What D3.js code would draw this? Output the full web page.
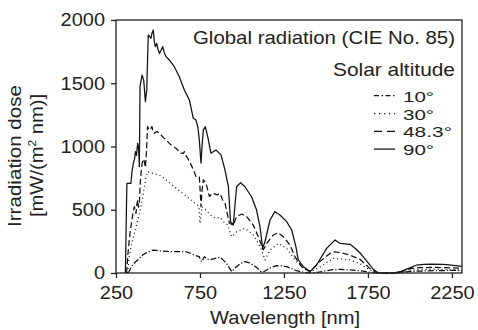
<!DOCTYPE html>
<html><head><meta charset="utf-8">
<script src="https://cdn.jsdelivr.net/npm/d3@7"></script>
<style>body{margin:0;background:#fff}svg{display:block}text{font-family:"Liberation Sans",Arial,Helvetica,sans-serif;fill:#222}</style>
</head><body><svg id="c" width="478" height="330"></svg>
<script>
const xTicks = [250, 750, 1250, 1750, 2250];
const yTicks = [0, 500, 1000, 1500, 2000];
const seriesNames = ["10°", "30°", "48.3°", "90°"];

const wl90 = [306,312,315,339,345,353,360,366,372,379,385,389,393,405,415,425,433,442,450,458,465,472,478,484,492,500,508,518,528,538,548,567,597,627,657,687,710,726,738,746,756,762,770,782,796,815,845,875,899,919,932,948,968,992,1018,1057,1087,1107,1123,1137,1167,1196,1226,1266,1296,1321,1335,1365,1405,1444,1504,1554,1583,1643,1670,1702,1730,1762,1785,1805,1830,1900,1940,1970,2000,2040,2080,2120,2200,2260,2310];
const v90 = [0,500,709,709,800,866,900,960,930,1025,980,840,1473,1565,1525,1355,1447,1881,1870,1855,1900,1921,1830,1789,1815,1770,1736,1760,1789,1740,1710,1684,1631,1552,1447,1368,1223,1210,1150,1052,868,1000,1131,1157,1078,947,973,934,814,682,406,379,682,714,682,603,498,366,195,247,419,485,458,406,340,208,103,50,11,63,195,261,235,227,200,160,115,63,25,5,0,0,10,25,40,63,68,71,68,60,52];

const wl48 = [313,321,329,337,345,352,359,364,369,374,379,384,389,394,399,406,413,419,425,431,438,448,456,464,471,478,488,498,508,518,533,548,577,607,637,650,657,662,677,692,706,716,726,746,751,756,762,770,786,806,825,855,869,885,899,925,948,968,998,1028,1067,1097,1127,1147,1186,1216,1246,1286,1315,1355,1405,1464,1524,1554,1590,1643,1702,1735,1762,1790,1821,1900,1940,1970,2000,2060,2140,2220,2310];
const v48 = [0,150,261,350,419,480,524,500,471,540,577,520,545,700,790,870,900,880,834,950,1157,1131,1140,1157,1120,1104,1115,1117,1100,1091,1070,1052,1013,986,947,945,960,935,908,870,829,800,763,763,650,524,650,737,710,605,631,618,630,577,551,393,379,445,466,445,379,287,182,234,300,319,287,221,129,50,11,90,155,168,160,142,108,70,35,12,0,0,5,18,35,42,45,42,37];

const wl30 = [319,329,339,349,359,369,379,389,399,409,419,428,438,453,468,488,508,528,548,572,597,622,647,672,696,716,736,744,750,756,762,774,786,805,825,845,869,895,915,938,950,968,1018,1067,1095,1117,1137,1167,1216,1266,1315,1365,1405,1440,1484,1544,1600,1643,1700,1742,1775,1801,1900,1960,2000,2060,2140,2220,2310];
const v30 = [0,130,208,260,313,360,419,470,524,600,682,750,801,795,788,780,775,755,735,710,682,655,630,605,577,557,537,520,392,450,524,510,497,470,445,432,440,400,380,287,300,326,353,300,240,182,103,182,234,195,103,37,11,30,63,116,110,103,75,40,15,0,0,5,22,27,30,28,25];

const wl10 = [322,329,340,349,364,379,394,409,428,448,463,478,503,528,560,597,630,667,690,716,730,746,754,762,768,776,790,806,825,845,869,890,909,925,940,955,968,990,1018,1045,1067,1095,1117,1132,1147,1175,1206,1235,1266,1295,1325,1365,1405,1450,1504,1540,1583,1643,1700,1742,1780,1801,1900,1960,2000,2060,2140,2220,2310];
const v10 = [0,15,45,63,85,102,122,142,158,168,178,181,176,173,170,168,168,168,158,142,135,129,100,89,110,129,115,102,110,118,125,100,75,40,10,35,50,75,90,80,63,35,5,12,24,45,58,56,50,35,18,6,0,5,18,26,29,24,18,10,3,0,0,3,12,15,18,20,20];

const series = [
  {name: seriesNames[0], x: wl10, y: v10, dash: "6,2,1.2,2", ldash: "5,2.5,1.5,2.5"},
  {name: seriesNames[1], x: wl30, y: v30, dash: "1,3", ldash: "1.2,3.8"},
  {name: seriesNames[2], x: wl48, y: v48, dash: "6,3", ldash: "8,5"},
  {name: seriesNames[3], x: wl90, y: v90, dash: null, ldash: null}
];

const svg = d3.select("#c");
const m = {l:116, r:462, t:20, b:273};
const x = d3.scaleLinear().domain([250, 2310]).range([m.l, m.r]);
const y = d3.scaleLinear().domain([0, 2000]).range([m.b, m.t]);
const FS = 18.5, K = 1.08;

function stretch(sel, len) {
  sel.each(function() {
    const w = len || this.getComputedTextLength() * K;
    d3.select(this).attr("textLength", w).attr("lengthAdjust", "spacingAndGlyphs");
  });
}

const line = d3.line().x(d => x(d[0])).y(d => y(d[1]));
series.forEach(s => {
  const pts = s.x.map((w, i) => [w, s.y[i]]);
  svg.append("path").datum(pts).attr("d", line)
    .attr("fill", "none").attr("stroke", "#111").attr("stroke-width", 1.25)
    .attr("stroke-linejoin", "round")
    .attr("stroke-dasharray", s.dash);
});

// frame
svg.append("rect").attr("x", m.l).attr("y", m.t).attr("width", m.r - m.l).attr("height", m.b - m.t)
  .attr("fill", "none").attr("stroke", "#222").attr("stroke-width", 1.3);

const xa = svg.append("g").attr("transform", `translate(0,${m.b})`)
  .call(d3.axisBottom(x).tickValues(xTicks).tickSize(5).tickPadding(8).tickFormat(d3.format("d")));
const ya = svg.append("g").attr("transform", `translate(${m.l},0)`)
  .call(d3.axisLeft(y).tickValues(yTicks).tickSize(5).tickPadding(6).tickFormat(d3.format("d")));
[xa, ya].forEach(a => {
  a.select(".domain").remove();
  a.selectAll("line").attr("stroke", "#222").attr("stroke-width", 1.3);
  a.selectAll("text").attr("font-size", FS).attr("fill", "#222")
   .style("font-family", '"Liberation Sans",Arial,sans-serif');
  stretch(a.selectAll("text"));
});

svg.append("text").attr("x", 285).attr("y", 323.5).attr("text-anchor", "middle")
  .attr("font-size", FS).text("Wavelength [nm]").call(stretch, 150);
svg.append("text").attr("transform", "translate(20.5,156) rotate(-90)").attr("text-anchor", "middle")
  .attr("font-size", FS).text("Irradiation dose").call(stretch, 142);
const yl2 = svg.append("text").attr("transform", "translate(43,155.5) rotate(-90)").attr("text-anchor", "middle")
  .attr("font-size", FS);
yl2.append("tspan").text("[mW/(m");
yl2.append("tspan").attr("font-size", 11).attr("dy", -7).text("2");
yl2.append("tspan").attr("dy", 7).text(" nm)]");
stretch(yl2, 123);

svg.append("text").attr("x", 455).attr("y", 44.3).attr("text-anchor", "end")
  .attr("font-size", FS).text("Global radiation (CIE No. 85)").call(stretch, 262);
svg.append("text").attr("x", 455).attr("y", 76).attr("text-anchor", "end")
  .attr("font-size", FS).text("Solar altitude").call(stretch, 122);

const lg = svg.append("g");
const LY0 = 101.7, LDY = 17.8, LFS = 15.4;
const legendWidths = [31, 31, 49, 31];
series.forEach((s, i) => {
  const yy = LY0 + i * LDY;
  lg.append("line").attr("x1", 374).attr("x2", 395).attr("y1", yy - 6).attr("y2", yy - 6)
    .attr("stroke", "#111").attr("stroke-width", 1.25).attr("stroke-dasharray", s.ldash);
  lg.append("text").attr("x", 403).attr("y", yy).attr("font-size", LFS)
    .text(s.name).call(stretch, legendWidths[i]);
});
</script></body></html>
